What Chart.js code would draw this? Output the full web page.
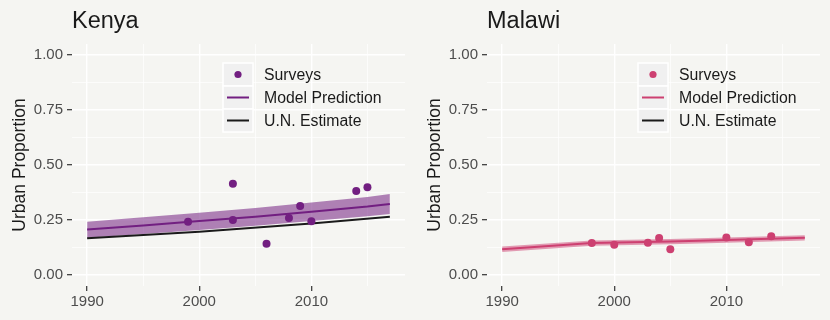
<!DOCTYPE html>
<html>
<head>
<meta charset="utf-8">
<script src="https://cdn.jsdelivr.net/npm/chart.js@4.4.0/dist/chart.umd.min.js"></script>
<style>
  body { margin: 0; background: #f5f5f2; width: 830px; height: 320px; overflow: hidden; display: flex; }
  .panel { position: relative; width: 415px; height: 320px; }
</style>
</head>
<body>
<div class="panel"><canvas id="kenyaChart"></canvas></div>
<div class="panel"><canvas id="malawiChart"></canvas></div>
<script>
// ---- data ----
const legendLabels = ['Surveys', 'Model Prediction', 'U.N. Estimate'];
const xMajor = [1990, 2000, 2010];
const xTicks = [1990, 1995, 2000, 2005, 2010, 2015];
const yMajor = [0, 0.25, 0.5, 0.75, 1];
const yTicks = [0, 0.125, 0.25, 0.375, 0.5, 0.625, 0.75, 0.875, 1];

// Kenya
const kenyaSurveyYears = [1999, 2003, 2003, 2006, 2008, 2009, 2010, 2014, 2015];
const kenyaSurveys     = [0.242, 0.415, 0.250, 0.142, 0.259, 0.314, 0.244, 0.382, 0.399];
const kenyaModelYears  = [1990, 1995, 2000, 2005, 2010, 2015, 2017];
const kenyaModel       = [0.207, 0.225, 0.245, 0.265, 0.287, 0.311, 0.323];
const kenyaUpper       = [0.242, 0.262, 0.283, 0.305, 0.329, 0.355, 0.368];
const kenyaLower       = [0.169, 0.186, 0.205, 0.224, 0.245, 0.267, 0.277];
const kenyaUNYears     = [1990, 2000, 2010, 2017];
const kenyaUN          = [0.167, 0.197, 0.234, 0.265];

// Malawi (no U.N. line visible)
const malawiSurveyYears = [1998, 2000, 2003, 2004, 2005, 2010, 2012, 2014];
const malawiSurveys     = [0.145, 0.138, 0.147, 0.168, 0.117, 0.171, 0.149, 0.176];
const malawiModelYears  = [1990, 1998, 2005, 2010, 2017];
const malawiModel       = [0.117, 0.145, 0.152, 0.159, 0.169];
const malawiUpper       = [0.129, 0.157, 0.164, 0.171, 0.181];
const malawiLower       = [0.105, 0.133, 0.140, 0.147, 0.157];
const malawiUNYears     = [];
const malawiUN          = [];

const FONT = '"Liberation Sans", Arial, Helvetica, sans-serif';

function pts(xs, ys) {
  return xs.map((x, i) => ({ x: x, y: ys[i] }));
}

function isMajor(list, v) {
  return list.some(m => Math.abs(m - v) < 1e-6);
}

// title + ggplot style legend drawn inside the panel
const panelDecor = {
  id: 'panelDecor',
  afterDraw(chart, args, opts) {
    const c = chart.ctx;
    const area = chart.chartArea;
    c.save();
    c.fillStyle = '#1a1a1a';
    c.font = '23.5px ' + FONT;
    c.textBaseline = 'alphabetic';
    c.textAlign = 'left';
    c.fillText(opts.title, area.left, 28);

    const lx = area.left + 151;
    const ly = area.top + 19;
    const kw = 30, kh = 23;
    c.font = '15.8px ' + FONT;
    c.textBaseline = 'middle';
    legendLabels.forEach((lab, i) => {
      const ky = ly + i * kh;
      c.fillStyle = '#f0f0f0';
      c.fillRect(lx, ky, kw, kh);
      c.strokeStyle = '#ffffff';
      c.lineWidth = 1.5;
      c.strokeRect(lx, ky, kw, kh);
      const cy = ky + kh / 2;
      if (i === 0) {
        c.fillStyle = opts.color;
        c.beginPath();
        c.arc(lx + kw / 2, cy, 3.6, 0, Math.PI * 2);
        c.fill();
      } else {
        c.strokeStyle = i === 1 ? opts.color : '#1a1a1a';
        c.lineWidth = 2;
        c.beginPath();
        c.moveTo(lx + 4, cy);
        c.lineTo(lx + kw - 4, cy);
        c.stroke();
      }
      c.fillStyle = '#1a1a1a';
      c.fillText(lab, lx + kw + 11, cy + 1);
    });
    c.restore();
  }
};

function makeChart(id, title, color, band, sYears, sVals, mYears, mVals, up, lo, uYears, uVals) {
  const ctx = document.getElementById(id).getContext('2d');
  return new Chart(ctx, {
    type: 'line',
    data: {
      datasets: [{
        label: 'Surveys',
        data: pts(sYears, sVals),
        showLine: false,
        pointRadius: 4,
        pointBackgroundColor: color,
        pointBorderWidth: 0,
        order: 0
      }, {
        label: 'Model Prediction',
        data: pts(mYears, mVals),
        borderColor: color,
        borderWidth: 2,
        pointRadius: 0,
        fill: false,
        order: 1
      }, {
        label: 'U.N. Estimate',
        data: pts(uYears, uVals),
        borderColor: '#1a1a1a',
        borderWidth: 2,
        pointRadius: 0,
        fill: false,
        order: 2
      }, {
        label: 'upper',
        data: pts(mYears, up),
        borderWidth: 0,
        pointRadius: 0,
        backgroundColor: band,
        fill: '+1',
        order: 3
      }, {
        label: 'lower',
        data: pts(mYears, lo),
        borderWidth: 0,
        pointRadius: 0,
        fill: false,
        order: 4
      }]
    },
    options: {
      responsive: true,
      maintainAspectRatio: false,
      animation: false,
      devicePixelRatio: 1,
      layout: { padding: { left: 0, right: 10, top: 44, bottom: 0 } },
      plugins: {
        legend: { display: false },
        tooltip: { enabled: false },
        panelDecor: { title: title, color: color }
      },
      scales: {
        x: {
          type: 'linear',
          min: 1988.65,
          max: 2018.35,
          border: { display: false },
          afterBuildTicks: s => { s.ticks = xTicks.map(v => ({ value: v })); },
          afterFit: s => { s.height = 34; },
          grid: {
            color: '#ffffff',
            lineWidth: c => isMajor(xMajor, c.tick.value) ? 1.4 : 0.7,
            tickColor: c => isMajor(xMajor, c.tick.value) ? '#333333' : 'rgba(0,0,0,0)',
            tickLength: 5,
            tickWidth: 1.2
          },
          ticks: {
            color: '#4d4d4d',
            font: { family: FONT, size: 15 },
            padding: 2,
            maxRotation: 0,
            autoSkip: false,
            callback: v => isMajor(xMajor, v) ? String(v) : ''
          }
        },
        y: {
          type: 'linear',
          min: -0.05,
          max: 1.05,
          border: { display: false },
          afterBuildTicks: s => { s.ticks = yTicks.map(v => ({ value: v })); },
          afterFit: s => { s.width = 72; },
          grid: {
            color: '#ffffff',
            lineWidth: c => isMajor(yMajor, c.tick.value) ? 1.4 : 0.7,
            tickColor: c => isMajor(yMajor, c.tick.value) ? '#333333' : 'rgba(0,0,0,0)',
            tickLength: 5,
            tickWidth: 1.2
          },
          ticks: {
            color: '#4d4d4d',
            font: { family: FONT, size: 15 },
            padding: 4,
            autoSkip: false,
            callback: v => isMajor(yMajor, v) ? v.toFixed(2) : ''
          },
          title: {
            display: true,
            text: 'Urban Proportion',
            color: '#1a1a1a',
            font: { family: FONT, size: 17.5 },
            padding: { top: 10, bottom: 0 }
          }
        }
      }
    },
    plugins: [panelDecor]
  });
}

makeChart('kenyaChart', 'Kenya', '#721f81', 'rgba(114,31,129,0.55)',
  kenyaSurveyYears, kenyaSurveys, kenyaModelYears, kenyaModel, kenyaUpper, kenyaLower, kenyaUNYears, kenyaUN);
makeChart('malawiChart', 'Malawi', '#cd4071', 'rgba(205,64,113,0.5)',
  malawiSurveyYears, malawiSurveys, malawiModelYears, malawiModel, malawiUpper, malawiLower, malawiUNYears, malawiUN);
</script>
</body>
</html>
